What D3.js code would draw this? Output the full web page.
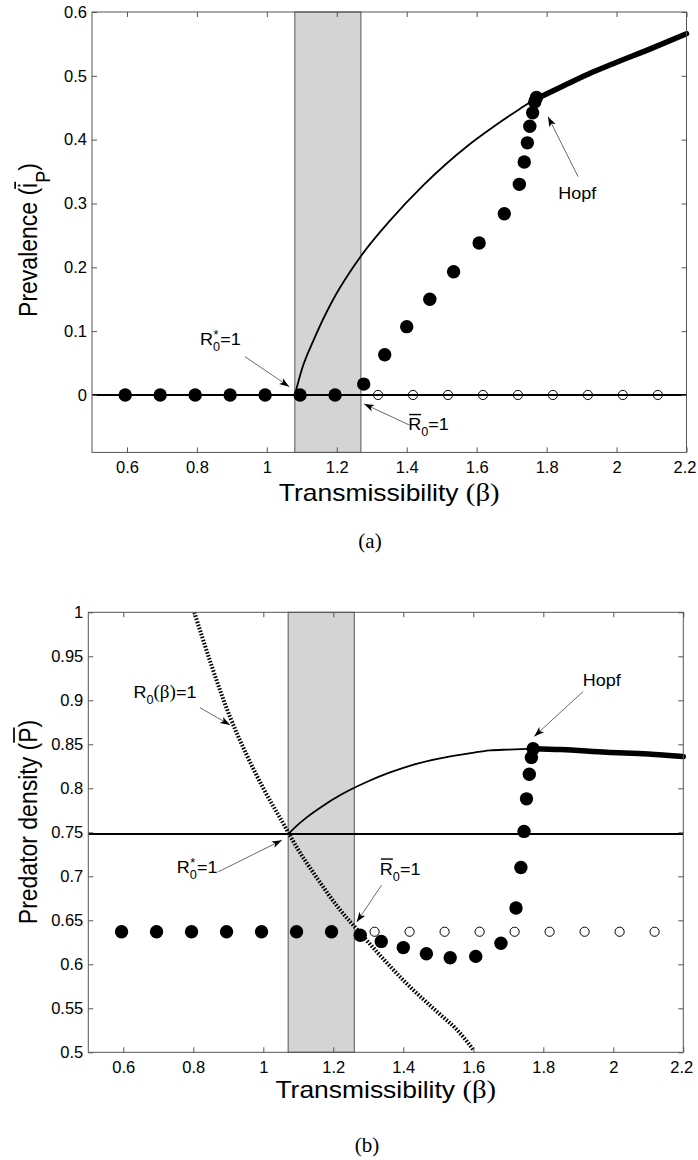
<!DOCTYPE html>
<html><head><meta charset="utf-8">
<script src="https://cdn.jsdelivr.net/npm/d3@7"></script>
<style>body{margin:0;background:#fff} svg{display:block}</style>
</head><body><svg id="c" width="698" height="1160"></svg>
<script>
const SANS = "'Liberation Sans', Arial, Helvetica, sans-serif";
const SERIF = "'Liberation Serif', 'Times New Roman', serif";

// ---- data ----
const xTickVals = [0.6, 0.8, 1.0, 1.2, 1.4, 1.6, 1.8, 2.0, 2.2];
const aYTickVals = [0, 0.1, 0.2, 0.3, 0.4, 0.5, 0.6];
const bYTickVals = [0.5, 0.55, 0.6, 0.65, 0.7, 0.75, 0.8, 0.85, 0.9, 0.95, 1];

const lowBeta = [0.595, 0.695, 0.795, 0.895, 0.995, 1.095, 1.195];
const aLowVal = [0, 0, 0, 0, 0, 0, 0];
const bLowVal = [0.637, 0.637, 0.637, 0.637, 0.637, 0.637, 0.637];

const riseBeta = [1.277, 1.337, 1.400, 1.466, 1.534, 1.607, 1.679, 1.722, 1.736, 1.745, 1.752, 1.760, 1.766, 1.771];
const aRiseVal = [0.017, 0.063, 0.107, 0.150, 0.193, 0.238, 0.284, 0.330, 0.365, 0.395, 0.421, 0.442, 0.459, 0.466];
const bRiseVal = [0.633, 0.626, 0.619, 0.612, 0.6075, 0.609, 0.624, 0.664, 0.710, 0.751, 0.788, 0.816, 0.835, 0.845];

const openBeta = [1.318, 1.418, 1.518, 1.618, 1.718, 1.818, 1.918, 2.018, 2.118];
const aOpenVal = [0, 0, 0, 0, 0, 0, 0, 0, 0];
const bOpenVal = [0.637, 0.637, 0.637, 0.637, 0.637, 0.637, 0.637, 0.637, 0.637];

const aStableBeta = [1.080, 1.100, 1.133, 1.190, 1.238, 1.286, 1.350, 1.450, 1.571, 1.650, 1.720, 1.763];
const aStableVal  = [0.000, 0.040, 0.085, 0.150, 0.193, 0.230, 0.272, 0.330, 0.389, 0.421, 0.447, 0.462];
const aUnstableBeta = [1.763, 1.850, 1.920, 1.990, 2.100, 2.200];
const aUnstableVal  = [0.462, 0.485, 0.503, 0.519, 0.543, 0.566];

const bStableBeta = [1.071, 1.100, 1.124, 1.170, 1.219, 1.247, 1.300, 1.362, 1.430, 1.505, 1.580, 1.648, 1.700, 1.770];
const bStableVal  = [0.748, 0.759, 0.767, 0.780, 0.792, 0.798, 0.808, 0.818, 0.827, 0.834, 0.839, 0.843, 0.844, 0.845];
const bUnstableBeta = [1.770, 1.850, 1.981, 2.100, 2.200];
const bUnstableVal  = [0.845, 0.844, 0.841, 0.839, 0.836];

const bR0Beta = [0.803, 0.850, 0.905, 0.950, 1.000, 1.057, 1.100, 1.150, 1.219, 1.276, 1.350, 1.410, 1.505, 1.550, 1.600];
const bR0Val  = [1.000, 0.942, 0.881, 0.840, 0.800, 0.760, 0.730, 0.700, 0.662, 0.636, 0.603, 0.578, 0.543, 0.527, 0.503];

const aShade = [1.080, 1.269];
const bShade = [1.071, 1.260];
const aHLine = 0;
const bHLine = 0.748;

const svg = d3.select('#c');
svg.append('defs').append('marker')
  .attr('id', 'arr').attr('markerUnits', 'userSpaceOnUse')
  .attr('markerWidth', 12).attr('markerHeight', 9)
  .attr('refX', 10).attr('refY', 4.5).attr('orient', 'auto')
  .append('path').attr('d', 'M0,1 L10,4.5 L0,8 L2.5,4.5 Z').attr('fill', '#000');

const zip = (a, b) => a.map((v, i) => [v, b[i]]);
const fmt = d => String(+d.toFixed(2));

function panel(cfg) {
  const x = d3.scaleLinear().domain([0.5, 2.2]).range(cfg.xr);
  const y = d3.scaleLinear().domain(cfg.yd).range(cfg.yr);
  const g = svg.append('g');
  const [x0, x1] = cfg.xr, [y1, y0] = cfg.yr;

  g.append('rect').attr('x', x(cfg.shade[0])).attr('y', y0)
    .attr('width', x(cfg.shade[1]) - x(cfg.shade[0])).attr('height', y1 - y0)
    .attr('fill', '#d4d4d4').attr('stroke', '#555').attr('stroke-width', 1);

  const line = d3.line().x(d => x(d[0])).y(d => y(d[1])).curve(d3.curveMonotoneX);
  if (cfg.dotted) {
    g.append('path').attr('d', line(cfg.dotted)).attr('fill', 'none')
      .attr('stroke', '#000').attr('stroke-width', 4).attr('stroke-dasharray', '1.6,1.6');
  }
  g.append('path').attr('d', line(cfg.stable)).attr('fill', 'none')
    .attr('stroke', '#000').attr('stroke-width', 1.8);
  g.append('path').attr('d', line(cfg.unstable)).attr('fill', 'none')
    .attr('stroke', '#000').attr('stroke-width', 5.5).attr('stroke-linecap', 'round');
  g.append('line').attr('x1', x0).attr('x2', x1).attr('y1', y(cfg.hline)).attr('y2', y(cfg.hline))
    .attr('stroke', '#000').attr('stroke-width', 2);

  g.selectAll('circle.o').data(cfg.open).enter().append('circle')
    .attr('cx', d => x(d[0])).attr('cy', d => y(d[1])).attr('r', 4.6)
    .attr('fill', 'none').attr('stroke', '#000').attr('stroke-width', 1);
  g.selectAll('circle.f').data(cfg.filled).enter().append('circle')
    .attr('cx', d => x(d[0])).attr('cy', d => y(d[1])).attr('r', 6.7).attr('fill', '#000');

  g.append('rect').attr('x', x0).attr('y', y0).attr('width', x1 - x0).attr('height', y1 - y0)
    .attr('fill', 'none').attr('stroke', '#555').attr('stroke-width', 1);

  const styleAxis = (sel, labels) => {
    sel.select('.domain').remove();
    sel.selectAll('line').attr('stroke', '#555');
    sel.selectAll('text').attr('font-family', SANS).attr('font-size', 16.5).attr('fill', '#000');
    if (!labels) sel.selectAll('text').remove();
  };
  const bx = g.append('g').attr('transform', `translate(0,${y1})`)
    .call(d3.axisBottom(x).tickValues(xTickVals).tickFormat(fmt).tickSizeInner(-5).tickSizeOuter(0).tickPadding(9));
  styleAxis(bx, true);
  bx.selectAll('text').attr('transform', (d, i, n) => i === n.length - 1 ? 'translate(-2,0)' : null);
  const tx = g.append('g').attr('transform', `translate(0,${y0})`)
    .call(d3.axisTop(x).tickValues(xTickVals).tickSizeInner(-5).tickSizeOuter(0));
  styleAxis(tx, false);
  const ly = g.append('g').attr('transform', `translate(${x0},0)`)
    .call(d3.axisLeft(y).tickValues(cfg.yticks).tickFormat(fmt).tickSizeInner(-5).tickSizeOuter(0).tickPadding(5));
  styleAxis(ly, true);
  const ry = g.append('g').attr('transform', `translate(${x1},0)`)
    .call(d3.axisRight(y).tickValues(cfg.yticks).tickSizeInner(-5).tickSizeOuter(0));
  styleAxis(ry, false);

  const xt = g.append('g').attr('transform', `translate(${(x0 + x1) / 2},${cfg.xTitleY}) scale(1.15,1)`)
    .append('text').attr('text-anchor', 'middle').attr('font-size', 23).attr('font-family', SANS);
  xt.append('tspan').text('Transmissibility ');
  xt.append('tspan').attr('font-family', SERIF).attr('font-size', 25).text('(β)');

  const yg = g.append('g').attr('transform', `translate(37,${cfg.yTitleY}) scale(1.15,1) rotate(-90)`);
  const yt = yg.append('text').attr('text-anchor', 'middle').attr('font-size', 23).attr('font-family', SANS);
  cfg.yTitle(yt, yg);

  g.append('text').attr('x', cfg.letterX).attr('y', cfg.letterY).attr('text-anchor', 'middle')
    .attr('font-family', SERIF).attr('font-size', 21).text(cfg.letter);

  cfg.ann.forEach(a => {
    g.append('line').attr('x1', x(a.from[0])).attr('y1', y(a.from[1]))
      .attr('x2', x(a.to[0])).attr('y2', y(a.to[1]))
      .attr('stroke', '#444').attr('stroke-width', 0.8).attr('marker-end', 'url(#arr)');
    const ag = g.append('g').attr('transform', `translate(${x(a.at[0])},${y(a.at[1])}) scale(1.06,1)`);
    const t = ag.append('text').attr('font-family', SANS).attr('font-size', 17);
    if (a.kind === 'hopf') { t.text('Hopf'); return; }
    t.append('tspan').text('R');
    t.append('tspan').attr('dy', 6).attr('font-size', 12).text('0');
    if (a.kind === 'beta') {
      t.append('tspan').attr('dy', -6).attr('font-family', SERIF).attr('font-size', 18).text('(β)');
      t.append('tspan').text('=1');
    } else {
      t.append('tspan').attr('dy', -6).text('=1');
    }
    const rw = t.node().getSubStringLength(0, 1);
    if (a.kind === 'star') {
      ag.append('text').attr('x', rw + 0.5).attr('y', -6).attr('font-family', SANS)
        .attr('font-size', 12).text('*');
    }
    if (a.kind === 'bar') {
      ag.append('line').attr('x1', 1).attr('x2', rw).attr('y1', -15.5).attr('y2', -15.5)
        .attr('stroke', '#000').attr('stroke-width', 1.4);
    }
  });
  return { x, y };
}

panel({
  xr: [92, 686.5], yd: [-0.09, 0.6], yr: [452.4, 12], yticks: aYTickVals,
  shade: aShade, hline: aHLine,
  stable: zip(aStableBeta, aStableVal), unstable: zip(aUnstableBeta, aUnstableVal),
  open: zip(openBeta, aOpenVal),
  filled: zip(lowBeta, aLowVal).concat(zip(riseBeta, aRiseVal)),
  xTitleY: 501, yTitleY: 240,
  yTitle: (t, g) => {
    t.append('tspan').text('Prevalence (');
    t.append('tspan').text('i');
    t.append('tspan').attr('dy', 11).attr('font-size', 18).text('P');
    t.append('tspan').attr('dy', -11).text(')');
    const e = t.node().getExtentOfChar(12);
    g.append('line').attr('x1', e.x - 1).attr('x2', e.x + e.width + 1)
      .attr('y1', -19).attr('y2', -19).attr('stroke', '#000').attr('stroke-width', 1.5);
  },
  letter: '(a)', letterX: 370, letterY: 548,
  ann: [
    { kind: 'star', at: [0.809, 0.078], from: [0.9375, 0.060], to: [1.064, 0.013] },
    { kind: 'bar', at: [1.404, -0.055], from: [1.407, -0.047], to: [1.278, -0.014] },
    { kind: 'hopf', at: [1.833, 0.307], from: [1.890, 0.342], to: [1.804, 0.436] }
  ]
});

panel({
  xr: [88.3, 683.3], yd: [0.5, 1], yr: [1052.3, 612.3], yticks: bYTickVals,
  shade: bShade, hline: bHLine,
  stable: zip(bStableBeta, bStableVal), unstable: zip(bUnstableBeta, bUnstableVal),
  dotted: zip(bR0Beta, bR0Val),
  open: zip(openBeta, bOpenVal),
  filled: zip(lowBeta, bLowVal).concat(zip(riseBeta, bRiseVal)),
  xTitleY: 1098, yTitleY: 822,
  yTitle: (t, g) => {
    t.append('tspan').text('Predator density (');
    t.append('tspan').text('P');
    t.append('tspan').text(')');
    const e = t.node().getExtentOfChar(18);
    g.append('line').attr('x1', e.x).attr('x2', e.x + e.width)
      .attr('y1', -20).attr('y2', -20).attr('stroke', '#000').attr('stroke-width', 1.5);
  },
  letter: '(b)', letterX: 367, letterY: 1152,
  ann: [
    { kind: 'beta', at: [0.629, 0.9026], from: [0.819, 0.8916], to: [0.905, 0.872] },
    { kind: 'hopf', at: [1.913, 0.916], from: [1.914, 0.910], to: [1.774, 0.859] },
    { kind: 'star', at: [0.753, 0.704], from: [0.871, 0.705], to: [1.053, 0.741] },
    { kind: 'bar', at: [1.333, 0.702], from: [1.338, 0.690], to: [1.267, 0.648] }
  ]
});
</script></body></html>
